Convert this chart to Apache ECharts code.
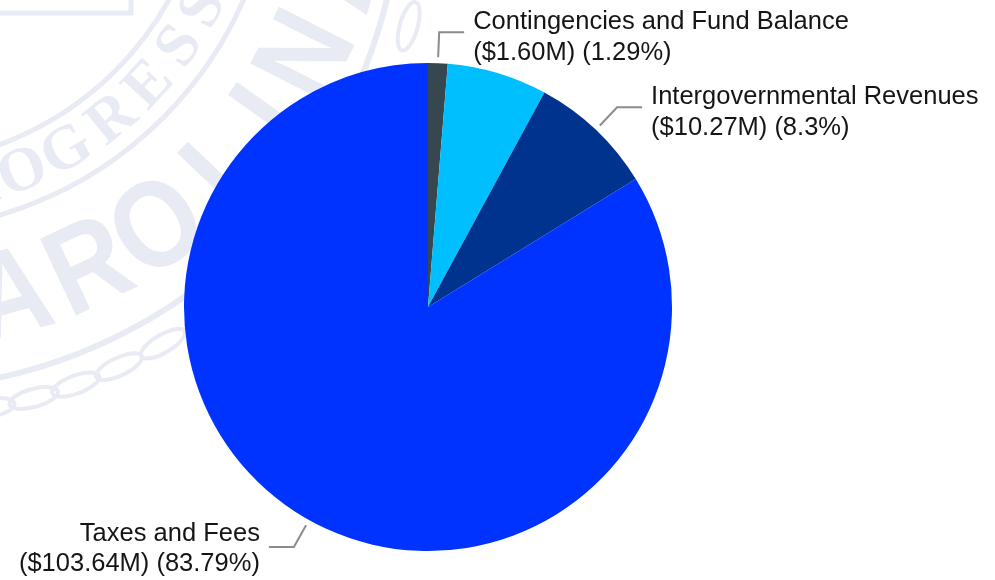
<!DOCTYPE html>
<html>
<head>
<meta charset="utf-8">
<style>html,body{margin:0;padding:0;background:#fff}#chart{width:995px;height:580px}</style>
<script src="https://cdn.jsdelivr.net/npm/echarts@6/dist/echarts.min.js"></script>
</head>
<body>
<div id="chart"></div>
<script>
// Revenue sources, in millions of dollars, clockwise from twelve o'clock.
const categories = ['Contingencies and Fund Balance', 'Other Revenues', 'Intergovernmental Revenues', 'Taxes and Fees'];
const amounts = [1.60, 8.19, 10.27, 103.64];
const amountLabels = ['$1.60M', '$8.19M', '$10.27M', '$103.64M'];
const shareLabels = ['1.29%', '6.62%', '8.3%', '83.79%'];
const labelled = [true, false, true, true];
const colors = ['#37474f', '#00bfff', '#00338d', '#0033ff'];

// Seal printed faintly behind the pie: rings, a rope border and lettering set on arcs.
const sealInk = '#e8ebf3';
const innerCenter = [-110, -155];
const outerCenter = [-108, -120];
const innerRings = [[319, 5], [386, 5]];
const outerRingRadius = 509;
const ropeRadius = 537;
const ropeAngles = [84.5, 79.5, 74.7, 70, 65, 59.7, 15.8];
const mottoLetters = ['P', 'R', 'O', 'G', 'R', 'E', 'S', 'S'];
const mottoAngles = [84, 76, 67.9, 60, 51, 42.8, 34.8, 27.5];
const nameLetters = ['C', 'A', 'R', 'O', 'L', 'I', 'N', 'A'];
const nameAngles = [86, 75, 64.8, 55, 43.5, 35.4, 26.9, 15.5];

function ring(center, r, width) {
  return { type: 'circle', silent: true,
    shape: { cx: center[0], cy: center[1], r: r },
    style: { fill: 'none', stroke: sealInk, lineWidth: width } };
}
// Glyph centred on the arc with its top pointing at the seal's centre.
function arcGlyph(ch, deg, radius, font, squeeze) {
  const t = deg * Math.PI / 180;
  return { type: 'text', silent: true,
    x: innerCenter[0] + radius * Math.cos(t),
    y: innerCenter[1] + radius * Math.sin(t),
    rotation: -(deg - 90) * Math.PI / 180,
    scaleX: squeeze,
    style: { text: ch, font: font, fill: sealInk, align: 'center', verticalAlign: 'middle' } };
}
function ropeLink(deg) {
  const t = deg * Math.PI / 180;
  return { type: 'ellipse', silent: true,
    x: outerCenter[0] + ropeRadius * Math.cos(t),
    y: outerCenter[1] + ropeRadius * Math.sin(t),
    rotation: -(deg - 90) * Math.PI / 180,
    shape: { cx: 0, cy: 0, rx: 25, ry: 9 },
    style: { fill: 'none', stroke: sealInk, lineWidth: 4 } };
}
const sealGraphics = [
  ...innerRings.map(r => ring(innerCenter, r[0], r[1])),
  ring(outerCenter, outerRingRadius, 6),
  ...ropeAngles.map(ropeLink),
  { type: 'polyline', silent: true,
    shape: { points: [[0, 13], [131, 13], [131, 0]] },
    style: { fill: 'none', stroke: sealInk, lineWidth: 5 } },
  ...mottoLetters.map((c, i) => arcGlyph(c, mottoAngles[i], 354, 'bold 62px "Liberation Serif"', 1)),
  ...nameLetters.map((c, i) => arcGlyph(c, nameAngles[i], 471, 'bold 123px "Liberation Sans"', 0.88))
];

const chart = echarts.init(document.getElementById('chart'), null, { renderer: 'canvas' });
chart.setOption({
  animation: false,
  backgroundColor: '#ffffff',
  graphic: { elements: sealGraphics },
  series: [{
    type: 'pie',
    center: [428, 307],
    radius: [0, 244],
    startAngle: 90,
    clockwise: true,
    avoidLabelOverlap: false,
    minShowLabelAngle: 0,
    data: categories.map((name, i) => ({
      name: name,
      value: amounts[i],
      itemStyle: { color: colors[i] },
      label: { show: labelled[i] },
      labelLine: { show: labelled[i] }
    })),
    label: {
      formatter: p => p.name + '\n(' + amountLabels[p.dataIndex] + ') (' + shareLabels[p.dataIndex] + ')',
      fontFamily: '"Liberation Sans", Arial, sans-serif',
      fontSize: 25.5,
      lineHeight: 30.5,
      color: '#151515',
      distanceToLabelLine: 9
    },
    labelLine: {
      length: 31,
      length2: 25,
      lineStyle: { color: '#8c8c8c', width: 2 }
    },
    // Leave a small gap between the rim and the start of each leader line,
    // and sit the upper labels a little lower against their leaders.
    labelLayout: function (p) {
      const pts = p.labelLinePoints;
      if (!pts) return {};
      const dx = pts[1][0] - pts[0][0], dy = pts[1][1] - pts[0][1];
      const len = Math.hypot(dx, dy) || 1;
      return {
        dy: pts[1][1] < 307 ? 5 : 2,
        labelLinePoints: [[pts[0][0] + dx / len * 6, pts[0][1] + dy / len * 6], pts[1], pts[2]]
      };
    }
  }]
});
</script>
</body>
</html>
